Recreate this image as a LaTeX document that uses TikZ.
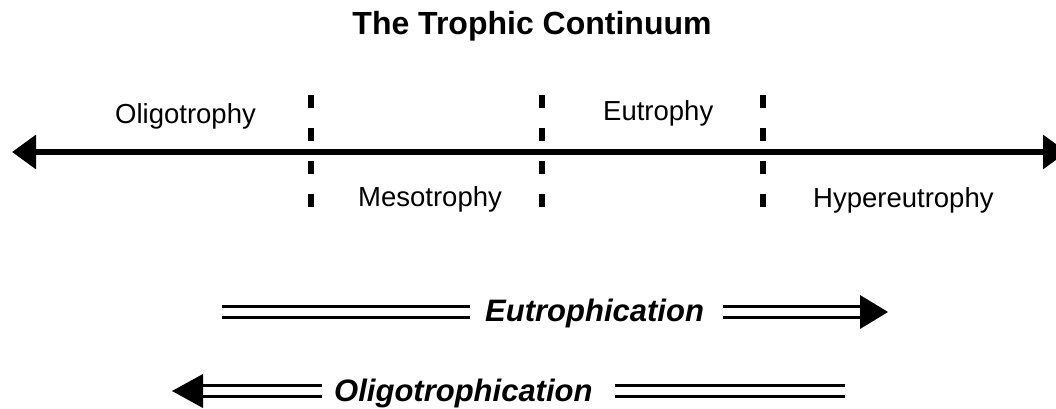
\documentclass[tikz,border=0pt]{standalone}
\usepackage{fontspec}
\setmainfont{Liberation Sans}
\usetikzlibrary{arrows.meta}
\begin{document}
\begin{tikzpicture}[x=1pt,y=-1pt,
  lbl/.style={anchor=base west,inner sep=0pt,font=\fontsize{27.5}{30}\selectfont},
  proc/.style={anchor=base west,inner sep=0pt,font=\fontsize{31}{34}\selectfont\bfseries\itshape},
  divider/.style={line width=6.5pt,dash pattern=on 13pt off 20pt},
  dbl/.style={line width=2.2pt,double distance=8.8pt},
  mainaxis/.style={line width=6pt,{Triangle[length=24pt,width=33pt]}-{Triangle[length=24pt,width=33pt]}}]
\useasboundingbox (0,0) rectangle (1056,409);
\clip (0,0) rectangle (1056,409);
% title
\node[anchor=base,inner sep=0pt,font=\fontsize{32}{36}\selectfont\bfseries] (title) at (532,35) {The Trophic Continuum};
% main axis
\coordinate (axL) at (12,152);
\coordinate (axR) at (1067,152);
\draw[mainaxis] (axL) -- (axR);
% dividers
\foreach \x/\n in {311/d1,542/d2,763/d3}{
  \coordinate (\n t) at (\x,95);
  \coordinate (\n b) at (\x,210);
  \draw[divider] (\n t) -- (\n b);
}
% zone labels
\node[lbl] (oligo) at (115,123) {Oligotrophy};
\node[lbl] (meso) at (358,206) {Mesotrophy};
\node[lbl] (eu) at (603,121) {Eutrophy};
\node[lbl] (hyper) at (813,207) {Hypereutrophy};
% Eutrophication arrow
\node[proc] (eutr) at (485,321) {Eutrophication};
\coordinate (e1) at (222,312);
\coordinate (e2) at (470,312);
\coordinate (e3) at (723,312);
\coordinate (e4) at (860,312);
\coordinate (etip) at (888,312);
\draw[dbl] (e1) -- (e2);
\draw[dbl] (e3) -- (e4);
\fill (etip) -- ([yshift=-17pt]e4) -- ([yshift=17pt]e4) -- cycle;
% Oligotrophication arrow
\node[proc] (oligtr) at (334,401) {Oligotrophication};
\coordinate (o1) at (845,391);
\coordinate (o2) at (615,391);
\coordinate (o3) at (322,391);
\coordinate (o4) at (203,391);
\coordinate (otip) at (172,391);
\draw[dbl] (o1) -- (o2);
\draw[dbl] (o3) -- (o4);
\fill (otip) -- ([yshift=-17pt]o4) -- ([yshift=17pt]o4) -- cycle;
\end{tikzpicture}
\end{document}
